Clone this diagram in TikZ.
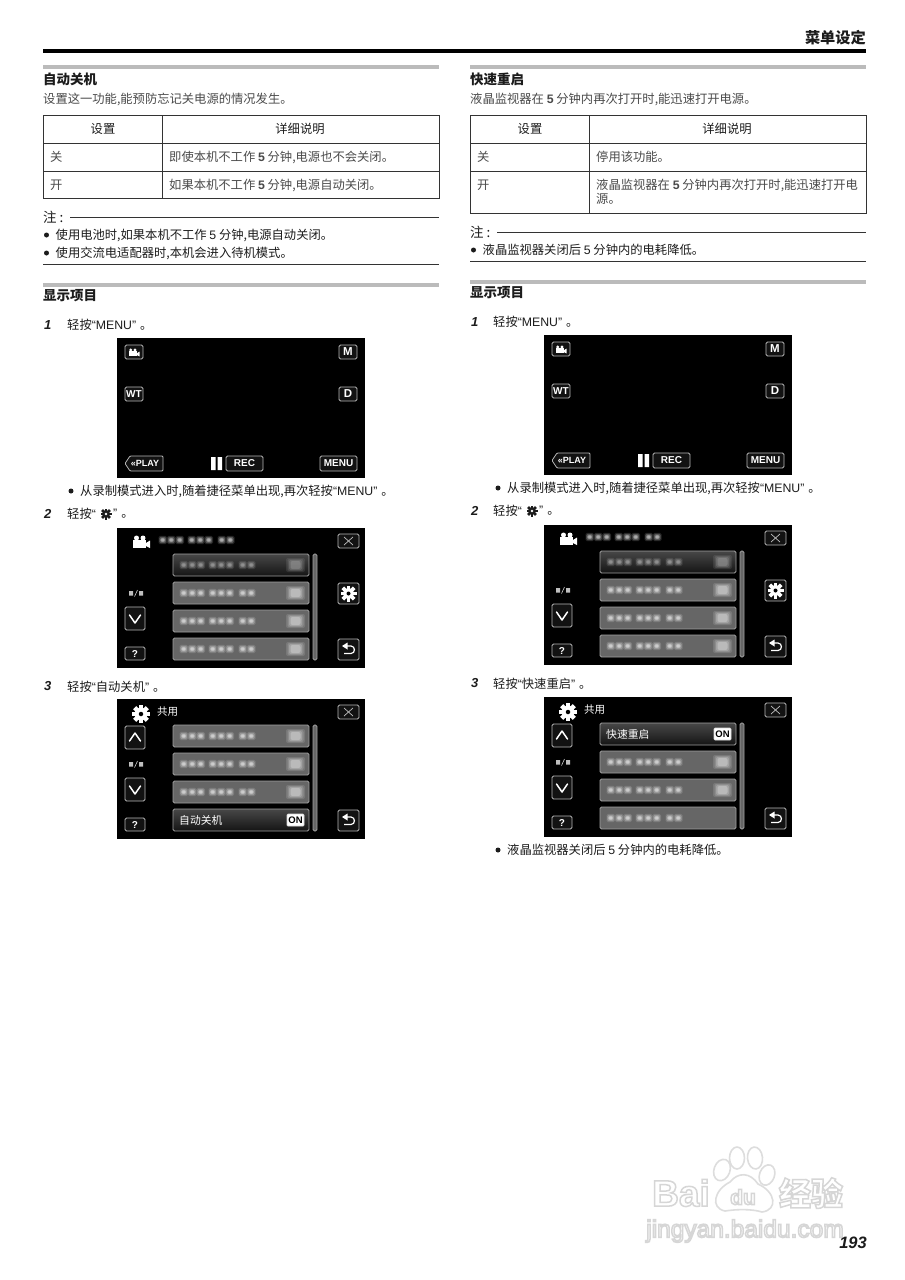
\documentclass[tikz,border=0pt]{standalone}
\usepackage{fontspec}
\setmainfont{Noto Sans CJK SC}
\newfontfamily\lat{Liberation Sans}
\usetikzlibrary{shapes.geometric}
\definecolor{bar}{HTML}{BBBBBB}
\definecolor{ink}{HTML}{1C1C1C}
\definecolor{soft}{HTML}{4A4A4A}
\definecolor{rule}{HTML}{333333}
\definecolor{edge}{HTML}{B8B8B8}
\definecolor{btnbg}{HTML}{121212}
\definecolor{rowbg}{HTML}{666666}
\definecolor{rowedge}{HTML}{A0A0A0}
\definecolor{halo}{HTML}{DDDDDD}
\tikzset{
  x=1pt,y=-1pt,
  txt/.style={anchor=west,inner sep=0pt,text=ink,font=\fontsize{12.3}{13}\selectfont},
  stxt/.style={anchor=west,inner sep=0pt,text=soft,font=\fontsize{12.3}{13}\selectfont},
  ttl/.style={anchor=west,inner sep=0pt,text=ink,font=\fontsize{13.5}{14}\selectfont\bfseries},
  stepnum/.style={anchor=west,inner sep=0pt,text=ink,font=\lat\fontsize{13}{14}\selectfont\bfseries\itshape},
  hbar/.style={fill=bar,draw=none},
  btn/.style={draw=edge,fill=btnbg,rounded corners=1.5pt,line width=.8pt},
  btnl/.style={inner sep=0pt,text=white,font=\lat\fontsize{10}{11}\selectfont\bfseries},
  btnb/.style={inner sep=0pt,text=white,font=\lat\fontsize{11.5}{12}\selectfont\bfseries},
  rowbox/.style={draw=rowedge,fill=rowbg,rounded corners=1.5pt,line width=.8pt},
  selbox/.style={draw=rowedge,top color=black!72,bottom color=black!92,rounded corners=1.5pt,line width=.8pt},
  wline/.style={white,line width=1.5pt,line cap=round,line join=round},
}
\newcommand{\strk}[1]{\special{pdf:code q 2 Tr 1.5 w 0.84 G 1 g}#1\special{pdf:code Q}}
\newcommand{\ql}{{\lat “}}
\newcommand{\qr}{{\lat ”}\hspace{4pt}}
% gear: x y radius colour hole
\newcommand{\mygear}[5]{\begin{scope}[shift={(#1,#2)}]
  \foreach \a in {0,45,...,315}{\fill[#4,rotate=\a] (-.24*#3,0) rectangle (.24*#3,#3);}
  \fill[#4] (0,0) circle (.7*#3);
  \fill[#5] (0,0) circle (.25*#3);
\end{scope}}
% camcorder icon
\newcommand{\mycam}[4]{\begin{scope}[shift={(#1,#2)},scale=#3]
  \fill[#4] (0,5) rectangle (13,13);
  \fill[#4] (3.5,3) circle (2.5);
  \fill[#4] (10,3) circle (2.5);
  \fill[#4] (13,8) -- (17,5.5) -- (17,13) -- (13,11) -- cycle;
\end{scope}}
% blurred text pieces, centred at y, from x
\newcommand{\blobs}[3]{\foreach \q in {0,8.5,17,29,37.5,46,59,67.5}{
  \fill[#3,opacity=.14,rounded corners=1.5pt] (#1+\q-.5,#2-4.2) rectangle (#1+\q+8,#2+4.2);
  \fill[#3,opacity=.22,rounded corners=1.5pt] (#1+\q+.4,#2-3.2) rectangle (#1+\q+7.1,#2+3.2);
  \fill[#3,opacity=.3,rounded corners=1.5pt] (#1+\q+1.3,#2-2.2) rectangle (#1+\q+6.2,#2+2.2);
  \fill[#3,opacity=.3,rounded corners=1pt] (#1+\q+2.1,#2-1.3) rectangle (#1+\q+5.4,#2+1.3);}}
\newcommand{\bigblob}[3]{
  \fill[#3,opacity=.12,rounded corners=2pt] (#1,#2-7) rectangle (#1+19,#2+7);
  \fill[#3,opacity=.16,rounded corners=2pt] (#1+1.5,#2-6) rectangle (#1+17.5,#2+6);
  \fill[#3,opacity=.2,rounded corners=2pt] (#1+3,#2-5) rectangle (#1+16,#2+5);
  \fill[#3,opacity=.25,rounded corners=2pt] (#1+4.5,#2-4) rectangle (#1+14.5,#2+4);}
\newcommand{\plainrow}[1]{
  \draw[rowbox] (56,#1) rectangle (192,#1+22);
  \blobs{63}{#1+11}{white}\bigblob{169}{#1+11}{white}}
\newcommand{\norightrow}[1]{
  \draw[rowbox] (56,#1) rectangle (192,#1+22);
  \blobs{63}{#1+11}{white}}
\newcommand{\selrow}[1]{
  \draw[selbox] (56,#1) rectangle (192,#1+22);
  \blobs{63}{#1+11}{black!25}\bigblob{169}{#1+11}{black!25}}
\newcommand{\namedrow}[2]{
  \draw[selbox] (56,#1) rectangle (192,#1+22);
  \node[anchor=west,inner sep=0pt,text=white,font=\fontsize{10.8}{11}\selectfont] at (62,#1+11) {#2};
  \draw[black!15,fill=white,line width=.7pt,rounded corners=1pt] (170,#1+5) rectangle (187,#1+17);
  \node[inner sep=0pt,text=black,font=\lat\fontsize{9.5}{10}\selectfont\bfseries] at (178.5,#1+11) {ON};}
\newcommand{\closebtn}{
  \draw[btn] (221,6) rectangle (242,20);
  \draw[white!75!black,line width=.7pt] (227,9) -- (236,17) (236,9) -- (227,17);}
\newcommand{\backbtn}{
  \draw[btn] (221,111) rectangle (242,132);
  \draw[white,line width=1.2pt] (230,118) -- (234,118) .. controls (238.5,118) and (238.5,125.5) .. (234,125.5) -- (227,125.5);
  \fill[white] (225,118) -- (230.5,114.5) -- (230.5,121.5) -- cycle;}
\newcommand{\qbtn}{
  \draw[btn] (8,119) rectangle (28,132);
  \node[btnl] at (18,125.5) {?};}
\newcommand{\downbtn}{
  \draw[btn] (8,79) rectangle (28,102);
  \draw[wline] (12.5,87) -- (18,95) -- (23.5,87);}
\newcommand{\upbtn}{
  \draw[btn] (8,27) rectangle (28,50);
  \draw[wline] (12.5,42) -- (18,34) -- (23.5,42);}
\newcommand{\pageno}{
  \fill[white!75!black] (12,63) rectangle (16,67.5) (22,63) rectangle (26,67.5);
  \draw[white!80!black,line width=.6pt] (17.5,68.5) -- (20.5,62);}
\newcommand{\scrollb}{\draw[rowbox,fill=rowbg] (196,26) rectangle (200,132);}
\newcommand{\screenbg}{\fill[black] (0,0) rectangle (248,140);}
% screen A
\newcommand{\screenA}[2]{\begin{scope}[shift={(#1,#2)}]
  \screenbg
  \draw[btn] (8,7) rectangle (26,21); \mycam{11.5}{10}{.65}{white}
  \draw[btn] (222,7) rectangle (240,21); \node[btnb] at (231,14) {M};
  \draw[btn] (8,49) rectangle (26,63); \node[btnl] at (17,56) {WT};
  \draw[btn] (222,49) rectangle (240,63); \node[btnb] at (231,56) {D};
  \draw[btn,rounded corners=1pt] (13,118) -- (46,118) -- (46,133) -- (13,133) -- (8,125.5) -- cycle;
  \node[btnl,font=\lat\fontsize{9}{10}\selectfont\bfseries] at (28,125.5) {«PLAY};
  \fill[white] (94,119) rectangle (98.5,132) (100.5,119) rectangle (105,132);
  \draw[btn] (109,118) rectangle (146,133); \node[btnl] at (127.5,125.5) {REC};
  \draw[btn] (203,118) rectangle (240,133); \node[btnl] at (221.5,125.5) {MENU};
\end{scope}}
% screen B
\newcommand{\screenB}[2]{\begin{scope}[shift={(#1,#2)}]
  \screenbg
  \mycam{16}{7}{1}{white}
  \blobs{42}{12}{white}
  \closebtn
  \selrow{26}\plainrow{54}\plainrow{82}\plainrow{110}
  \scrollb
  \draw[btn] (221,55) rectangle (242,76);
  \mygear{231.5}{65.5}{8}{white}{black}
  \pageno\downbtn\qbtn\backbtn
\end{scope}}
% screen C frame
\newcommand{\screenCtop}{
  \screenbg
  \mygear{24}{15}{9}{white}{black}
  \node[anchor=west,inner sep=0pt,text=white,font=\fontsize{10.5}{11}\selectfont] at (40,12.5) {共用};
  \closebtn\scrollb\upbtn\pageno\downbtn\qbtn\backbtn}
\begin{document}
\begin{tikzpicture}
\useasboundingbox (0,0) rectangle (905,1280);
\fill[white] (0,0) rectangle (905,1280);
% header
\node[anchor=east,inner sep=0pt,text=ink,font=\fontsize{15.2}{16}\selectfont\bfseries] at (866,37.5) {菜单设定};
\fill[black] (43,48.5) rectangle (866,52.5);
% ---------- left column ----------
\fill[hbar] (43,65) rectangle (439,69);
\node[ttl] at (43,79) {自动关机};
\node[stxt] at (43,99.5) {设置这一功能,能预防忘记关电源的情况发生。};
\draw[rule,line width=1pt] (43,115) rectangle (439,198) (43,143) -- (439,143) (43,171) -- (439,171) (162,115) -- (162,198);
\node[txt] at (103,129) [anchor=center] {设置};
\node[txt] at (300,129) [anchor=center] {详细说明};
\node[stxt] at (50,157) {关};
\node[stxt] at (169,157) {即使本机不工作 {\lat\bfseries 5} 分钟,电源也不会关闭。};
\node[stxt] at (50,185) {开};
\node[stxt] at (169,185) {如果本机不工作 {\lat\bfseries 5} 分钟,电源自动关闭。};
\node[anchor=west,inner sep=0pt,text=ink,font=\fontsize{13.5}{14}\selectfont] at (43,217) {注 :};
\draw[rule,line width=.9pt] (70,217) -- (439,217);
\fill[ink] (46.5,235) circle (2.5) (46.5,253) circle (2.5);
\node[txt] at (55.5,235) {使用电池时,如果本机不工作 {\lat 5} 分钟,电源自动关闭。};
\node[txt] at (55.5,253) {使用交流电适配器时,本机会进入待机模式。};
\draw[rule,line width=.9pt] (43,264) -- (439,264);
\fill[hbar] (43,282.5) rectangle (439,286.5);
\node[ttl] at (43,296) {显示项目};
\node[stepnum] at (44,325) {1};
\node[txt] at (67,325) {轻按\ql{\lat MENU}\qr。};
\screenA{117}{338}
\fill[ink] (71,491) circle (2.5);
\node[txt] at (80,491) {从录制模式进入时,随着捷径菜单出现,再次轻按\ql{\lat MENU}\qr。};
\node[stepnum] at (44,514) {2};
\node[txt] at (67,514) {轻按\ql};
\mygear{106}{514}{5.5}{ink}{white}
\node[txt] at (113,514) {\qr。};
\screenB{117}{528}
\node[stepnum] at (44,686) {3};
\node[txt] at (67,687) {轻按\ql 自动关机\qr。};
\begin{scope}[shift={(117,699)}]
  \screenCtop
  \plainrow{26}\plainrow{54}\plainrow{82}\namedrow{110}{自动关机}
\end{scope}
% ---------- right column ----------
\fill[hbar] (470,65) rectangle (866,69);
\node[ttl] at (470,79) {快速重启};
\node[stxt] at (470,99.5) {液晶监视器在 {\lat\bfseries 5} 分钟内再次打开时,能迅速打开电源。};
\draw[rule,line width=1pt] (470,115) rectangle (866,213) (470,143) -- (866,143) (470,171) -- (866,171) (589,115) -- (589,213);
\node[txt] at (530,129) [anchor=center] {设置};
\node[txt] at (727,129) [anchor=center] {详细说明};
\node[stxt] at (477,157) {关};
\node[stxt] at (596,157) {停用该功能。};
\node[stxt] at (477,185) {开};
\node[stxt] at (596,185) {液晶监视器在 {\lat\bfseries 5} 分钟内再次打开时,能迅速打开电};
\node[stxt] at (596,199) {源。};
\node[anchor=west,inner sep=0pt,text=ink,font=\fontsize{13.5}{14}\selectfont] at (470,232) {注 :};
\draw[rule,line width=.9pt] (497,232) -- (866,232);
\fill[ink] (473.5,250) circle (2.5);
\node[txt] at (482.5,250) {液晶监视器关闭后 {\lat 5} 分钟内的电耗降低。};
\draw[rule,line width=.9pt] (470,261) -- (866,261);
\fill[hbar] (470,279.5) rectangle (866,283.5);
\node[ttl] at (470,293) {显示项目};
\node[stepnum] at (471,322) {1};
\node[txt] at (493,322) {轻按\ql{\lat MENU}\qr。};
\screenA{544}{335}
\fill[ink] (498,488) circle (2.5);
\node[txt] at (507,488) {从录制模式进入时,随着捷径菜单出现,再次轻按\ql{\lat MENU}\qr。};
\node[stepnum] at (471,511) {2};
\node[txt] at (493,511) {轻按\ql};
\mygear{532}{511}{5.5}{ink}{white}
\node[txt] at (539,511) {\qr。};
\screenB{544}{525}
\node[stepnum] at (471,683) {3};
\node[txt] at (493,684) {轻按\ql 快速重启\qr。};
\begin{scope}[shift={(544,697)}]
  \screenCtop
  \namedrow{26}{快速重启}\plainrow{54}\plainrow{82}\norightrow{110}
\end{scope}
\fill[ink] (498,850) circle (2.5);
\node[txt] at (507,850) {液晶监视器关闭后 {\lat 5} 分钟内的电耗降低。};
% ---------- watermark ----------
\node[inner sep=0pt,text=white,font=\lat\fontsize{37}{37}\selectfont\bfseries] at (681,1193) {\strk{Bai}};
\foreach \cx/\cy/\rx/\ry/\an in {722/1170/8/11/-20,737/1158/7.5/11/0,755/1158/7.5/11/5,767/1175/7.5/10.5/-20}{
  \draw[halo,fill=white,line width=1.6pt,rotate around={\an:(\cx,\cy)}] (\cx,\cy) ellipse[x radius=\rx,y radius=\ry];}
\draw[halo,fill=white,line width=1.6pt] (725,1211) .. controls (710,1208) and (714,1190) .. (730,1182) .. controls (738,1172) and (750,1172) .. (758,1184) .. controls (776,1192) and (778,1210) .. (762,1212) .. controls (752,1209) and (738,1209) .. (725,1211) -- cycle;
\node[inner sep=0pt,text=white,font=\lat\fontsize{21}{21}\selectfont\bfseries] at (743,1197) {\strk{du}};
\node[inner sep=0pt,text=white,font=\fontsize{32}{33}\selectfont\bfseries] at (811,1193) {\strk{经验}};
\node[inner sep=0pt,text=white,font=\lat\fontsize{24.5}{25}\selectfont] at (745,1231) {\strk{jingyan.baidu.com}};
\node[anchor=east,inner sep=0pt,text=ink,font=\lat\fontsize{16.5}{18}\selectfont\bfseries\itshape] at (867,1243) {193};
\end{tikzpicture}
\end{document}
